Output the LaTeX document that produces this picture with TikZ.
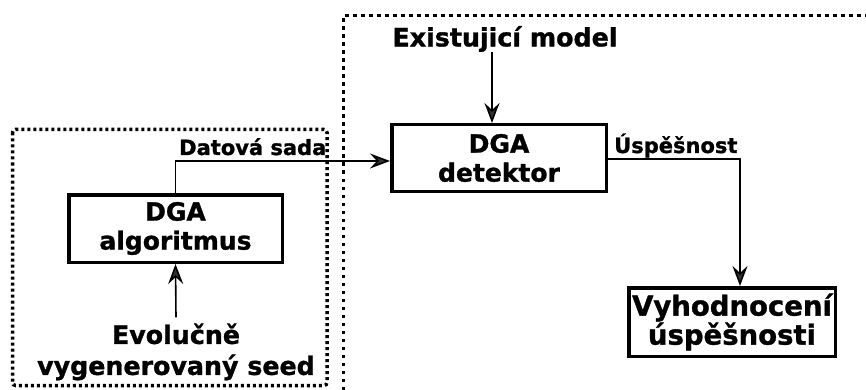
\documentclass[tikz,border=0pt]{standalone}
\usepackage{fontspec}
\setmainfont{DejaVu Sans}[BoldFeatures={FakeBold=1.2}]
\usetikzlibrary{arrows.meta}
\begin{document}
\begin{tikzpicture}[x=1pt,y=-1pt,
  box/.style={draw, line width=3.5pt, inner sep=0pt, align=center,
    font=\bfseries\fontsize{25}{29}\selectfont},
  lbl/.style={inner sep=0pt, font=\bfseries\fontsize{21}{24}\selectfont},
  src/.style={inner sep=0pt, align=center, font=\bfseries\fontsize{25.3}{31}\selectfont},
  flow/.style={line width=1.6pt,
    -{Stealth[length=20pt,width=15pt,inset=7pt,fill=black!80]}},
  frame/.style={line width=3.5pt, dash pattern=on 3pt off 3pt},
  wideframe/.style={line width=3.5pt, dash pattern=on 3.5pt off 4.5pt}
]
\useasboundingbox (0,0) rectangle (866,390);

% dotted grouping frames
\draw[frame, rounded corners=3pt] (12.5,129.5) rectangle (327,385.5);
\draw[wideframe] (343.5,390) -- (343.5,15.5) -- (866,15.5);

% processing blocks
\node[box, minimum width=213.5pt, minimum height=67.5pt] (alg) at (175.5,228.5) {DGA\\algoritmus};
\node[box, minimum width=214.5pt, minimum height=66.5pt] (det) at (499,158) {DGA\\detektor};
\node[box, minimum width=206.5pt, minimum height=68.5pt,
  font=\bfseries\fontsize{27.5}{29}\selectfont] (vyh) at (732,322) {Vyhodnocení\\úspěšnosti};

% inputs
\node[src] (exist) at (505,39) {Existujicí model};
\node[src] (seed) at (176,352) {Evolučně\\vygenerovaný seed};

% connectors
\draw[flow] ([yshift=6pt]seed.north) -- (alg.south);
\draw[flow] ([xshift=-13pt]exist.south) -- ([xshift=-7pt]det.north);
\draw[flow] (alg.north) |- ([yshift=-3pt]det.west);
\draw[flow] ([yshift=-1pt]det.east) -| ([xshift=8pt]vyh.north);

% connector labels
\node[lbl, anchor=base west] (ds) at (179,155) {Datová sada};
\node[lbl, anchor=base west] (us) at (614,153) {Úspěšnost};
\end{tikzpicture}
\end{document}
